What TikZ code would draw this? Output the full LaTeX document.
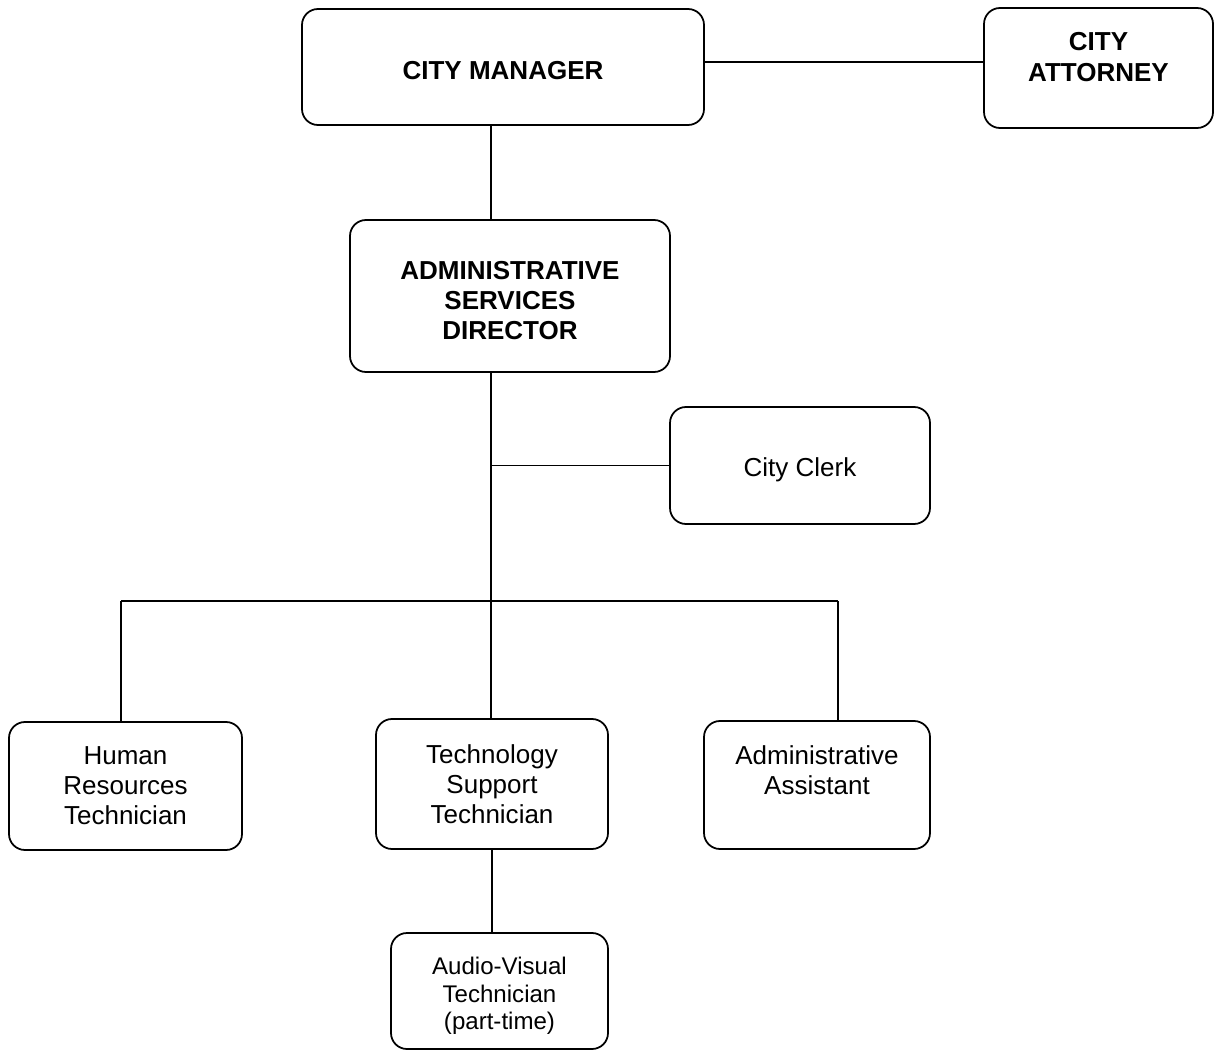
\documentclass[tikz,border=0pt]{standalone}
\usepackage{fontspec}
\setmainfont{Liberation Sans}
\usetikzlibrary{positioning}

\begin{document}
\begin{tikzpicture}[x=0.2mm, y=-0.2mm, line width=1pt,
    post/.style={draw, rounded corners=3.2mm, align=center, inner sep=2pt,
      font=\fontsize{14.8}{17.1}\selectfont},
    head/.style={post, font=\fontsize{14.8}{17.1}\selectfont\bfseries}]
    \useasboundingbox (0,0) rectangle (1214,1051);

    \node[head, minimum width=80.4mm, minimum height=23.2mm, text height=14pt, text depth=0pt] (manager) at (503,67) {CITY MANAGER};
    \node[head, minimum width=45.8mm, minimum height=24mm] (attorney) at (1098.5,68) {CITY\\ATTORNEY\\[-4.5pt]\mbox{}};
    \node[head, minimum width=64mm, minimum height=30.4mm] (director) at (510,296) {\mbox{}\\[-2pt]ADMINISTRATIVE\\SERVICES\\DIRECTOR};
    \node[post, minimum width=52mm, minimum height=23.4mm, text height=15.9pt, text depth=3.1pt] (clerk) at (800,465.5) {City Clerk};
    \node[post, minimum width=46.6mm, minimum height=25.6mm] (hrtech) at (125.5,786) {Human\\Resources\\Technician};
    \node[post, minimum width=46.4mm, minimum height=26mm] (itech) at (492,784) {Technology\\Support\\Technician};
    \node[post, minimum width=45.2mm, minimum height=25.6mm] (assistant) at (817,785) {Administrative\\Assistant\\\mbox{}};
    \node[post, minimum width=43.4mm, minimum height=23.2mm, font=\fontsize{13.7}{15.6}\selectfont] (avtech) at (499.5,991) {\mbox{}\\Audio-Visual\\Technician\\(part-time)};

    % trunk and branch points
    \coordinate (trunk) at (491,601);
    \coordinate (barL) at (121,601);
    \coordinate (barR) at (838,601);

    \draw ([yshift=1mm]manager.east) -- ([yshift=1mm]manager.east -| attorney.west);
    \draw (manager.south -| trunk) -- (director.north -| trunk);
    \draw (director.south -| trunk) -- (itech.north -| trunk);
    \draw (clerk.west -| trunk) -- (clerk.west);
    \draw (barL) -- (barR);
    \draw (barL) -- (hrtech.north -| barL);
    \draw (barR) -- (assistant.north -| barR);
    \draw (itech.south) -- (itech.south |- avtech.north);
\end{tikzpicture}
\end{document}
